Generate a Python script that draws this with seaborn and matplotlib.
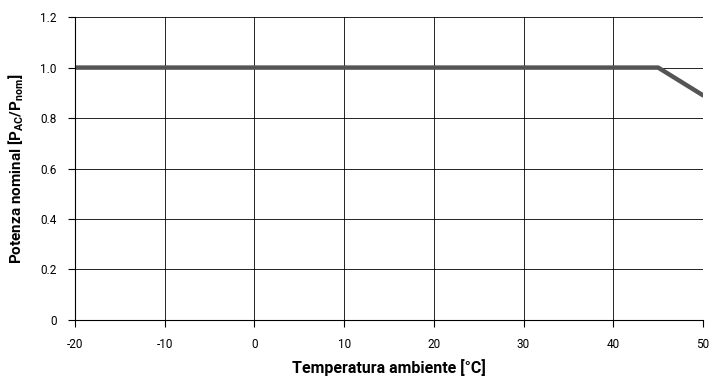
import matplotlib
matplotlib.use("Agg")
import matplotlib.pyplot as plt
import seaborn as sns
import pandas as pd
from matplotlib import font_manager

temps = [-20, 45, 50]
power = [1.0, 1.0, 0.89]
xticks = [-20, -10, 0, 10, 20, 30, 40, 50]
yticks = [0, 0.2, 0.4, 0.6, 0.8, 1.0, 1.2]
ytick_labels = ["0", "0.2", "0.4", "0.6", "0.8", "1.0", "1.2"]

sns.set_theme(style="white")
names = {f.name for f in font_manager.fontManager.ttflist}
fam = "Liberation Sans Narrow" if "Liberation Sans Narrow" in names else "Roboto"
plt.rcParams['font.family'] = [fam, 'DejaVu Sans']
plt.rcParams['mathtext.fontset'] = 'custom'
plt.rcParams['mathtext.rm'] = fam + ':bold'
plt.rcParams['mathtext.bf'] = fam + ':bold'

df = pd.DataFrame({"T": temps, "P": power})
fig = plt.figure(figsize=(7.13, 3.8), dpi=100)
ax = fig.add_axes([0.105, 0.158, 0.881, 0.797])
sns.lineplot(data=df, x="T", y="P", ax=ax, color="#555555", linewidth=3.2)
ax.set_xlim(-20, 50)
ax.set_ylim(0, 1.2)
ax.set_xticks(xticks)
ax.set_xticklabels([str(t) for t in xticks], fontsize=8.5, color="black")
ax.set_yticks(yticks)
ax.set_yticklabels(ytick_labels, fontsize=8.5, color="black")
ax.grid(True, color="black", linewidth=0.6)
ax.set_axisbelow(True)
for s in ax.spines.values():
    s.set_color("black")
    s.set_linewidth(0.8)
ax.spines['top'].set_visible(False)
ax.spines['right'].set_visible(False)
ax.tick_params(axis='both', which='both', direction='out', length=5, width=0.8, color="black", left=True, bottom=True, pad=8)
ax.set_xlabel("Temperatura ambiente [°C]", fontsize=11.5, fontweight="bold", color="black", labelpad=6)
ax.set_ylabel(r"Potenza nominal [P$_{\mathrm{AC}}$/P$_{\mathrm{nom}}$]", fontsize=11, fontweight="bold", color="black", labelpad=10)
fig.savefig("out.png", dpi=100, facecolor="white")
